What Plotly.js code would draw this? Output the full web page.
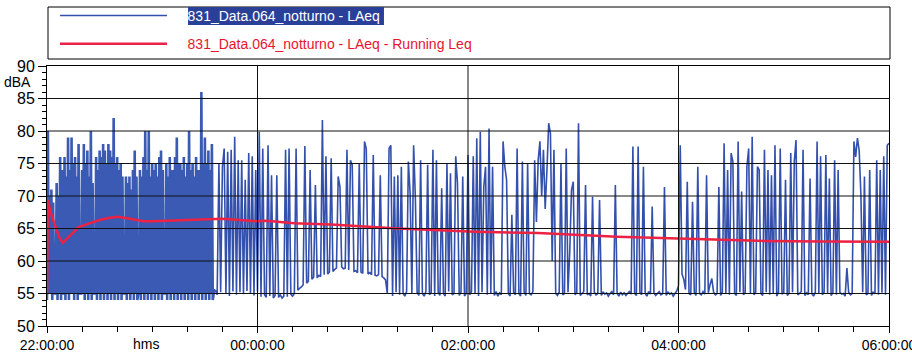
<!DOCTYPE html>
<html>
<head>
<meta charset="utf-8">
<script src="https://cdn.plot.ly/plotly-3.0.1.min.js"></script>
<style>html,body{margin:0;padding:0;background:#fff;}#chart{width:912px;height:356px;}</style>
</head>
<body>
<div id="chart"></div>
<script>
// ---- data ----
// busy period 22:00:00 - 23:36:00, one sample every 0.5 min
const busyStartMinute = 0;
const busyStepMinutes = 0.5;
const laeqBusy = [
 54,80, 55,70, 55,71, 54,69, 55,55, 55,72, 54,70, 55,76, 54,74, 55,55,
 76,54, 73,55, 79,54, 74,55, 79,55, 75,54, 76,55, 73,54, 78,55, 55,55,
 74,55, 78,54, 75,55, 77,54, 73,55, 80,54, 72,55, 55,55, 76,54, 74,55,
 77,54, 76,55, 78,54, 77,55, 75,54, 78,55, 77,54, 76,55, 82,54, 75,55,
 76,54, 74,55, 75,54, 73,55, 55,55, 73,54, 72,55, 73,54, 71,55, 74,54,
 77,55, 73,54, 55,55, 74,54, 73,55, 76,54, 80,55, 74,54, 80,55, 73,54,
 75,55, 74,54, 75,55, 73,54, 76,55, 77,54, 74,55, 55,55, 75,54, 73,55,
 76,54, 74,55, 74,54, 76,55, 79,54, 75,55, 75,54, 74,55, 76,54, 73,55,
 75,54, 80,55, 74,54, 75,55, 73,54, 76,55, 74,54, 74,55, 86,54, 75,55,
 79,54, 75,55, 77,54, 74,55, 78,54, 55,55.5, 55.5
];
// quieter period 23:36:00 - 06:00:00, one sample every minute
const quietStartMinute = 96;
const quietStepMinutes = 1;
const laeqQuiet = [
 55.5,54.8,75,55.2,
 74.5,77.3,55,76.8,54.6,77.1,55.3,79.1,54.8,75.5,
 55.2,75.5,54.9,72.5,55.4,76.6,55,76.1,54.7,74,
 55.3,79.9,54.5,77.3,54.8,54.4,77.8,54.6,73.2,54.3,
 54.7,73.2,54.4,54.8,54.3,54.6,77.1,54.5,77.3,54.9,
 54.6,55,77.3,55.5,55.8,56,56.3,77.7,56.6,56.9,
 74,57.2,57.5,71.7,57.4,57.8,57.6,81.7,57.9,76.1,
 58,58.3,75.8,58.4,58.7,58.9,73,71.4,59.1,58.8,
 58.9,77.1,58.6,75.5,74.8,58.4,58.5,58.2,75,58.3,
 58.1,78.4,77.3,58,58.2,57.9,76.3,57.8,57.7,57.9,
 73.2,57.6,57.4,57.1,55,77.3,77.8,54.6,73,55.2,
 73.2,54.8,74.5,55,54.6,55.3,75.3,70.4,55,77.8,
 69.6,55.2,54.7,75.5,55,54.6,55.3,74.8,54.8,55.1,
 77.1,54.6,75.5,55.2,54.7,71.2,55,54.6,75,55.3,
 73.5,54.8,55,76.1,72,54.7,55.2,73,54.6,55,
 76.3,54.8,55.3,76.1,55,78.9,54.6,79.9,55.2,71.4,
 74.5,54.8,80.4,55,74.5,54.7,55.3,54.6,55.1,54.8,
 78.4,74.5,72.5,55,54.6,67.1,55.2,54.8,77.3,55,
 54.6,75.3,55.2,54.7,75,55,54.8,55.3,75.5,66,
 75.5,78.4,70,77.1,68,74,81.2,79.6,60,77.1,
 55,54.7,55.2,75,54.8,55,77.3,55.2,61.4,70.9,
 72.2,54.8,55.1,81.2,54.7,55,55.3,71.7,54.8,55,
 54.6,69.9,55.2,54.8,55,69.4,54.7,55.2,54.9,55.1,
 54.6,55,55.3,54.8,71.7,55,54.6,55.2,54.8,55.1,
 54.7,55,55.3,54.9,77.6,55,54.7,77.6,55.2,54.8,
 74.5,55,54.6,55.3,54.9,68.4,55.1,54.7,55,55.3,
 54.8,55,71.4,54.7,55.2,54.9,55.1,54.6,55,55.4,
 56.2,77.8,58,57.2,55.6,72.2,55,54.8,69.1,55.2,
 54.7,74.5,55,54.8,55.3,54.9,73.2,55.1,56.4,57.3,
 55.2,54.8,55,71.4,54.7,55.2,78.1,55,74,54.8,
 76.6,75.3,55,54.7,78.4,55.2,70.7,54.8,55.1,74.5,
 77.3,55,79.1,54.8,55.2,74.5,74,55,54.7,77.1,
 55.2,74,54.8,73.2,55,77.8,54.6,55.2,77.3,54.9,
 55.1,72.5,54.7,55,76.6,55.2,75.3,78.6,54.8,55,
 55.3,77.1,54.7,55.1,54.8,72.7,55,54.6,55.2,78.4,
 55,76.1,54.8,55.2,76.3,55,72.7,54.7,55.1,75.5,
 54.8,74,55.2,54.9,55,54.6,58.9,55.2,54.8,55,
 78.4,76,78.9,77,70,55.2,73,54.8,55,74,
 54.7,55.2,55,75.5,54.8,74,55.1,76.1,54.8,77.8,
 78.1
];
const runningTimes = [0,0.5,2,4.6,7,9,12,15,18,22,26,30,35,40,45,50,55,60,70,80,90,100,110,120,125,141,162,200,244,280,325,361,405,442,480];
const runningLeq   = [55,69.4,67.5,65.3,63.6,62.8,63.6,64.5,65.2,65.6,66,66.3,66.6,66.8,66.6,66.3,66.1,66.1,66.2,66.4,66.5,66.5,66.3,66.1,66.2,65.8,65.6,65.0,64.5,64.3,63.75,63.5,63.1,63.0,62.95];
const seriesNames = ['831_Data.064_notturno - LAeq','831_Data.064_notturno - LAeq - Running Leq'];
const tickMinutes = [0,120,240,360,480];
const tickLabels = ['22:00:00','00:00:00','02:00:00','04:00:00','06:00:00'];
const yTickValues = [50,55,60,65,70,75,80,85,90];

// ---- build ----
const busyTimes = laeqBusy.map((_, i) => busyStartMinute + i * busyStepMinutes);
const quietTimes = laeqQuiet.map((_, i) => quietStartMinute + i * quietStepMinutes);

const pad = '\u00A0\u00A0\u00A0\u00A0';
const traces = [
  {x: quietTimes, y: laeqQuiet, type:'scatter', mode:'lines', name: pad + '<span style="color:#ffffff">'+seriesNames[0]+'</span>',
   line:{color:'#3350ac', width:1.6, simplify:false}, legendgroup:'a'},
  {x: busyTimes, y: laeqBusy, type:'scatter', mode:'lines', showlegend:false,
   line:{color:'#3a5ab4', width:2.6, simplify:false}, legendgroup:'a'},
  {x: runningTimes, y: runningLeq, type:'scatter', mode:'lines', name: pad + '<span style="color:#e8142e">'+seriesNames[1]+'</span>',
   line:{color:'#ec2244', width:2.5}, legendgroup:'b'}
];

const shapes = [];
yTickValues.slice(1,-1).forEach(v => shapes.push({type:'line', xref:'paper', yref:'y', x0:0, x1:1, y0:v, y1:v, line:{color:'#111', width:1}, layer:'above'}));
tickMinutes.slice(1,-1).forEach(v => shapes.push({type:'line', xref:'x', yref:'paper', x0:v, x1:v, y0:0, y1:1, line:{color:'#111', width:1}, layer:'above'}));
// legend frame and selection highlight
shapes.push({type:'rect', xref:'paper', yref:'paper', x0:0.0012, x1:1.0012, y0:1.0269, y1:1.2269, line:{color:'#000', width:1}, fillcolor:'rgba(0,0,0,0)', layer:'below'});
shapes.push({type:'rect', xref:'paper', yref:'paper', x0:0.1675, x1:0.4002, y0:1.1577, y1:1.2269, line:{width:0}, fillcolor:'#2a3f98', layer:'below'});

const layout = {
  width:912, height:356,
  margin:{l:47, r:23, t:66, b:30, autoexpand:false},
  paper_bgcolor:'#ffffff', plot_bgcolor:'#ffffff',
  font:{family:'Liberation Sans, Arial, sans-serif', color:'#000'},
  showlegend:true,
  legend:{x:0.0095, xanchor:'left', y:1.254, yanchor:'top', font:{size:14}, bgcolor:'rgba(0,0,0,0)', borderwidth:0,
          itemwidth:107, traceorder:'grouped', tracegroupgap:7},
  xaxis:{range:[0,480], tickmode:'array', tickvals:tickMinutes, ticktext:tickLabels, ticks:'outside', ticklen:6, tickcolor:'#000',
         showline:true, linecolor:'#000', linewidth:1, mirror:true, showgrid:false, zeroline:false, tickfont:{size:14},
         ticklabeloverflow:'allow',
         minor:{tickmode:'linear', tick0:0, dtick:20, ticks:'outside', ticklen:5, tickcolor:'#000', showgrid:false}},
  yaxis:{range:[50,90], tickmode:'array', tickvals:yTickValues, ticks:'outside', ticklen:8, tickcolor:'#000',
         showline:true, linecolor:'#000', linewidth:1, mirror:true, showgrid:false, zeroline:false, tickfont:{size:16},
         ticklabeloverflow:'allow',
         minor:{tickmode:'linear', tick0:50, dtick:1, ticks:'outside', ticklen:4, tickcolor:'#000', showgrid:false}},
  shapes:shapes,
  annotations:[
    {text:'dBA', xref:'paper', yref:'y', x:-0.017, y:87.6, xanchor:'right', yanchor:'middle', showarrow:false, font:{size:14}},
    {text:'hms', xref:'paper', yref:'paper', x:0.117, y:-0.069, xanchor:'center', yanchor:'middle', showarrow:false, font:{size:14}}
  ]
};

Plotly.newPlot('chart', traces, layout, {displayModeBar:false, staticPlot:true});
</script>
</body>
</html>
